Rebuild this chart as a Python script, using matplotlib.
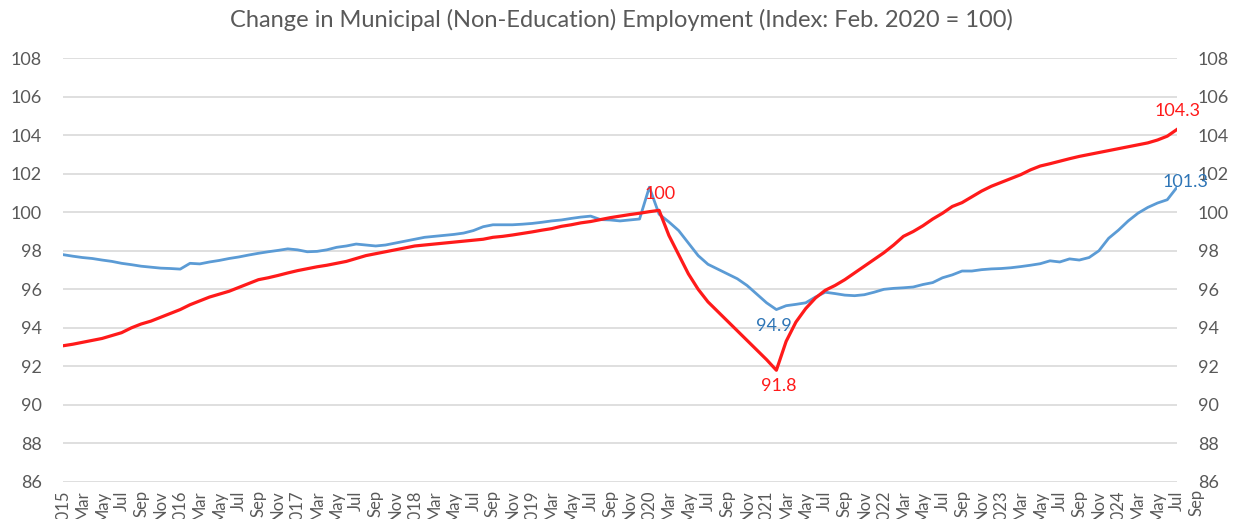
import matplotlib
matplotlib.use("Agg")
import matplotlib.pyplot as plt

plt.rcParams['font.family'] = ['Lato', 'DejaVu Sans']

# monthly index, Jan 2015 .. Jul 2024
years = list(range(2015, 2025))
months = ["Jan", "Feb", "Mar", "Apr", "May", "Jun", "Jul", "Aug", "Sep", "Oct", "Nov", "Dec"]

red = [93.07, 93.15, 93.25, 93.35, 93.45, 93.6, 93.75, 94.0, 94.2, 94.35,
       94.55, 94.75, 94.95, 95.2, 95.4, 95.6, 95.75, 95.9, 96.1, 96.3,
       96.5, 96.6, 96.72, 96.85, 96.97, 97.07, 97.17, 97.25, 97.35, 97.45,
       97.6, 97.75, 97.85, 97.95, 98.05, 98.15, 98.25, 98.3, 98.35, 98.4,
       98.45, 98.5, 98.55, 98.6, 98.7, 98.75, 98.82, 98.9, 98.98, 99.07,
       99.15, 99.27, 99.35, 99.45, 99.52, 99.62, 99.72, 99.8, 99.88, 99.95,
       100.03, 100.1, 98.8, 97.8, 96.8, 96.0, 95.35, 94.85, 94.35, 93.85,
       93.35, 92.85, 92.35, 91.8, 93.3, 94.3, 95.0, 95.55, 95.95, 96.2,
       96.5, 96.85, 97.2, 97.55, 97.9, 98.3, 98.75, 99.0, 99.3, 99.65,
       99.95, 100.3, 100.5, 100.8, 101.1, 101.35, 101.55, 101.75, 101.95, 102.2,
       102.4, 102.52, 102.65, 102.78, 102.9, 103.0, 103.1, 103.2, 103.3, 103.4,
       103.5, 103.6, 103.75, 103.95, 104.3]

blue = [97.8, 97.72, 97.65, 97.6, 97.52, 97.45, 97.35, 97.28, 97.2, 97.15,
        97.1, 97.08, 97.05, 97.35, 97.32, 97.42, 97.5, 97.6, 97.68, 97.78,
        97.87, 97.95, 98.02, 98.1, 98.05, 97.95, 97.97, 98.05, 98.18, 98.25,
        98.35, 98.3, 98.25, 98.3, 98.4, 98.5, 98.6, 98.7, 98.75, 98.8,
        98.85, 98.92, 99.05, 99.25, 99.35, 99.35, 99.35, 99.38, 99.42, 99.48,
        99.55, 99.6, 99.68, 99.75, 99.8, 99.62, 99.6, 99.55, 99.6, 99.65,
        101.3, 99.9, 99.5, 99.05, 98.4, 97.75, 97.3, 97.05, 96.8, 96.55,
        96.2, 95.75, 95.3, 94.95, 95.15, 95.22, 95.3, 95.6, 95.85, 95.78,
        95.7, 95.67, 95.72, 95.85, 96.0, 96.05, 96.08, 96.12, 96.25, 96.35,
        96.6, 96.75, 96.95, 96.95, 97.02, 97.06, 97.08, 97.12, 97.18, 97.25,
        97.33, 97.48, 97.42, 97.58, 97.52, 97.65, 98.0, 98.65, 99.07, 99.55,
        99.95, 100.25, 100.48, 100.65, 101.3]

# labelled points: (month index, text)
red_labels = [(61, "100"), (73, "91.8"), (114, "104.3")]
blue_labels = [(73, "94.9"), (114, "101.3")]

RED = "#FF1A1A"
BLUE = "#5B9BD5"
GREY = "#595959"

x = list(range(len(red)))
fig = plt.figure(figsize=(12.42, 5.19), dpi=100)
ax = fig.add_axes([0.0507, 0.0713, 0.897, 0.8167])

ax.plot(x, blue, color=BLUE, lw=2.0)
ax.plot(x, red, color=RED, lw=2.3)

offsets = {"100": (1, 12), "91.8": (2, -11), "104.3": (0, 13), "94.9": (-2, -12), "101.3": (6, 4)}
for i, t in red_labels:
    ax.annotate(t, (i, red[i]), xytext=offsets[t], textcoords="offset points",
                ha="center", va="center", color=RED, fontsize=13)
for i, t in blue_labels:
    ax.annotate(t, (i, blue[i]), xytext=offsets[t], textcoords="offset points",
                ha="center", va="center", color="#2E75B6", fontsize=13)

ax.set_ylim(86, 108)
ax.set_yticks(range(86, 109, 2))
ax.set_xlim(0, len(red) - 1)
ax.grid(axis="y", color="#D9D9D9", lw=1.2)
ax.set_axisbelow(True)
for s in ax.spines.values():
    s.set_visible(False)
ax.tick_params(axis="y", length=0, pad=15, labelsize=13, labelcolor=GREY,
               labelleft=True, labelright=True)

# tick labels every two months, year shown on January
all_labels = []
for y in years:
    for m in months:
        all_labels.append(str(y) if m == "Jan" else m)
tick_pos = list(range(0, len(red), 2))
ax.set_xticks(tick_pos)
ax.set_xticklabels([all_labels[p] for p in tick_pos], rotation=90, va="top", ha="center")
ax.tick_params(axis="x", length=0, pad=6, labelsize=12, labelcolor=GREY)
# Sep 2024 category label past the last data point
ax.text(116, -0.016, all_labels[116], transform=ax.get_xaxis_transform(), rotation=90,
        va="top", ha="center", fontsize=12, color=GREY, clip_on=False)

fig.text(0.5, 0.961, "Change in Municipal (Non-Education) Employment (Index: Feb. 2020 = 100)",
         ha="center", va="center", fontsize=17, color=GREY)

fig.savefig("out.png", dpi=100)
